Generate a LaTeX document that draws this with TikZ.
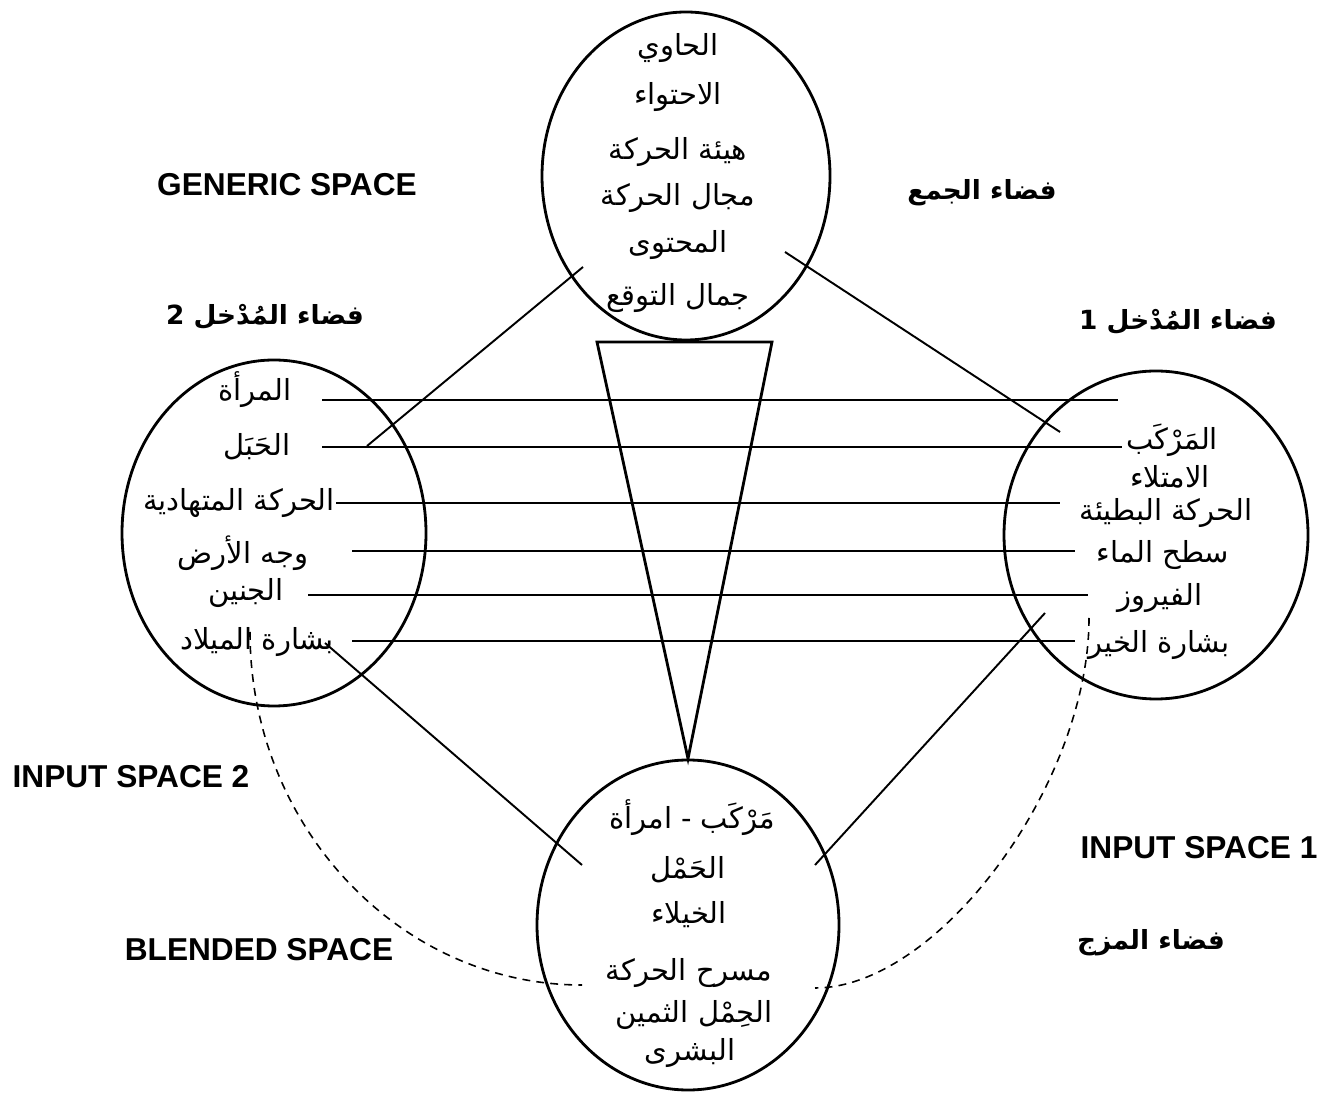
\documentclass[tikz,border=0pt]{standalone}
\usepackage{fontspec}
\setmainfont{Liberation Sans}
\newfontfamily\arabicfont[Script=Arabic]{DejaVu Sans}
\usetikzlibrary{shapes.geometric}
\TeXXeTstate=1
\newcommand{\artxt}[1]{{\arabicfont\beginR #1\endR}}

\tikzset{
  space/.style={draw, ellipse, line width=1.6pt, inner sep=0pt},
  item/.style={font=\fontsize{16.5}{19}\selectfont},
  title/.style={font=\fontsize{18}{21}\selectfont\bfseries},
  artitle/.style={font=\fontsize{15}{18}\selectfont\bfseries},
  link/.style={line width=1.1pt},
  blendlink/.style={line width=0.9pt, dash pattern=on 4.5pt off 3.5pt},
}

\begin{document}
\begin{tikzpicture}
    \useasboundingbox (0,0) rectangle (26.54,21.88);

    % the four spaces
    \node[space, minimum width=5.76cm, minimum height=6.56cm] (gen) at (13.72,18.36) {};
    \node[space, minimum width=6.08cm, minimum height=6.92cm] (inb) at (5.48,11.22) {};
    \node[space, minimum width=6.08cm, minimum height=6.56cm] (ina) at (23.12,11.18) {};
    \node[space, minimum width=6.04cm, minimum height=6.60cm] (bl)  at (13.76,3.38) {};

    % funnel from generic to blend
    \draw[line width=1.6pt] (11.94,15.04) -- (15.44,15.04) -- (bl.north) -- cycle;

    % generic space items
    \foreach \t/\y [count=\i] in {الحاوي/20.92, الاحتواء/19.94, هيئة الحركة/18.84,
                                  مجال الحركة/17.92, المحتوى/16.98, جمال التوقع/15.92}
      \node[item] (g\i) at (13.56,\y) {\artxt{\t}};

    % input space 2 items
    \foreach \t/\x/\y [count=\i] in {المرأة/5.10/14.08, الحَبَل/5.14/12.94,
                                     الحركة المتهادية/4.78/11.82, وجه الأرض/4.86/10.82,
                                     الجنين/4.92/10.02, بشارة الميلاد/5.14/9.04}
      \node[item] (b\i) at (\x,\y) {\artxt{\t}};

    % input space 1 items
    \foreach \t/\x/\y [count=\i] in {المَرْكَب/23.44/13.08, الامتلاء/23.40/12.34,
                                     الحركة البطيئة/23.32/11.62, سطح الماء/23.26/10.78,
                                     الفيروز/23.20/9.92, بشارة الخير/23.18/8.98}
      \node[item] (a\i) at (\x,\y) {\artxt{\t}};

    % blended space items
    \foreach \t/\x/\y [count=\i] in {مَرْكَب - امرأة/13.84/5.52, الحَمْل/13.76/4.48,
                                     الخيلاء/13.78/3.58, مسرح الحركة/13.78/2.42,
                                     الحِمْل الثمين/13.88/1.58, البشرى/13.80/0.82}
      \node[item] (m\i) at (\x,\y) {\artxt{\t}};

    % cross-space mappings
    \foreach \y/\xa/\xb [count=\i] in {13.88/6.44/22.36, 12.94/6.44/22.44,
                                       11.82/6.72/21.20, 10.86/7.04/21.50,
                                       9.98/6.16/21.76, 9.06/7.04/21.50}
    {
      \coordinate (ml\i) at (\xa,\y);
      \coordinate (mr\i) at (\xb,\y);
      \draw[link] (ml\i) -- (mr\i);
    }

    % projections between spaces
    \coordinate (genL) at (11.66,16.54);  \coordinate (inbT) at (7.34,12.96);
    \coordinate (genR) at (15.70,16.84);  \coordinate (inaT) at (21.20,13.24);
    \coordinate (inbB) at (6.50,9.02);    \coordinate (blL)  at (11.64,4.58);
    \coordinate (inaB) at (20.90,9.62);   \coordinate (blR)  at (16.30,4.58);
    \draw[link] (genL) -- (inbT);
    \draw[link] (genR) -- (inaT);
    \draw[link] (inbB) -- (blL);
    \draw[link] (inaB) -- (blR);

    % dashed blend arcs
    \coordinate (dbT) at (5.00,9.24);   \coordinate (dbE) at (11.64,2.18);
    \coordinate (daT) at (21.78,9.52);  \coordinate (daE) at (16.30,2.12);
    \draw[blendlink] (dbT) .. controls (5.00,5.36) and (7.98,2.18) .. (dbE);
    \draw[blendlink] (daT) .. controls (21.78,6.19) and (18.76,2.12) .. (daE);

    % space titles
    \node[title] (tgen) at (5.74,18.18) {GENERIC SPACE};
    \node[artitle] (tgenar) at (19.64,18.02) {\artxt{فضاء الجمع}};
    \node[artitle] (tinbar) at (5.30,15.54) {\artxt{فضاء المُدْخل 2}};
    \node[artitle] (tinaar) at (23.56,15.44) {\artxt{فضاء المُدْخل 1}};
    \node[title] (tinb) at (2.62,6.34) {INPUT SPACE 2};
    \node[title] (tbl) at (5.18,2.88) {BLENDED SPACE};
    \node[title] (tina) at (23.98,4.92) {INPUT SPACE 1};
    \node[artitle] (tblar) at (23.02,3.02) {\artxt{فضاء المزج}};
\end{tikzpicture}
\end{document}
